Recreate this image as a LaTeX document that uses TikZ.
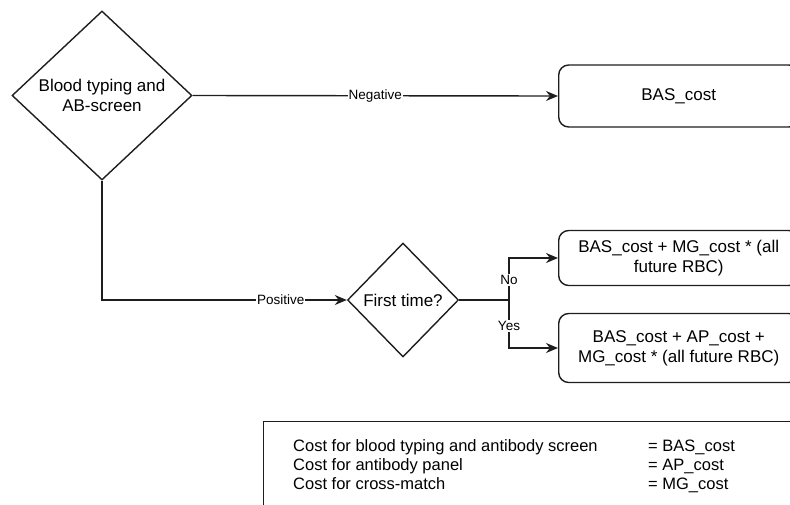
\documentclass[tikz,border=0pt]{standalone}
\usepackage{fontspec}
\setmainfont{Liberation Sans}
\usetikzlibrary{shapes.geometric, arrows.meta, positioning}
\definecolor{linegray}{HTML}{1E1E1E}
\tikzset{
  decision/.style={draw=linegray, diamond, line width=1.4pt, inner sep=0pt,
    align=center, font=\fontsize{17}{20}\selectfont},
  outcome/.style={draw=linegray, rounded corners=10pt, line width=1.4pt,
    minimum width=240pt, align=center, font=\fontsize{17}{20}\selectfont},
  flow/.style={draw=linegray, line width=1.4pt, -{Stealth[length=12pt,width=10pt]}},
  edgelabel/.style={fill=white, inner sep=1pt, font=\fontsize{13.5}{15}\selectfont},
  legendtext/.style={inner sep=0pt, font=\fontsize{16.5}{19}\selectfont}
}

\begin{document}
\begin{tikzpicture}[x=1pt, y=-1pt]
  \useasboundingbox (0,0) rectangle (790,504);
  \clip (0,0) rectangle (790,504);

  % decisions
  \node[decision, minimum width=180pt, minimum height=169pt] (screen) at (102,95.5) {Blood typing and\\AB-screen};
  \node[decision, minimum width=111pt, minimum height=114pt] (first) at (403,300) {First time?};

  % outcomes
  \node[outcome, minimum height=62pt, anchor=west] (bas) at (558,96) {BAS\_cost};
  \node[outcome, minimum height=55pt, anchor=west] (nofut) at (558,258) {BAS\_cost + MG\_cost * (all\\future RBC)};
  \node[outcome, minimum height=69pt, anchor=west] (yesfut) at (558,348) {BAS\_cost + AP\_cost +\\MG\_cost * (all future RBC)};

  % connectors
  \draw[flow] (screen.east) -- node[edgelabel]{Negative} (bas.west);
  \draw[flow] (screen.south) |- node[edgelabel, pos=0.865]{Positive} (first.west);
  \coordinate (split) at (509,300);
  \draw[draw=linegray, line width=1.4pt] (first.east) -- (split);
  \draw[flow] (split) |- node[edgelabel, pos=0.24]{No} (nofut.west);
  \draw[flow] (split) |- node[edgelabel, pos=0.27]{Yes} (yesfut.west);

  % legend
  \node[draw=linegray, line width=1.4pt, anchor=north west, minimum width=560pt, minimum height=100pt] (legend) at (263,421) {};
  \foreach \name/\val [count=\i] in {Cost for blood typing and antibody screen/BAS\_cost,
      Cost for antibody panel/AP\_cost, Cost for cross-match/MG\_cost}{
    \node[legendtext, anchor=base west] (cost\i) at (293,432+19*\i) {\name};
    \node[legendtext, anchor=base west] (val\i) at (648,432+19*\i) {= \val};
  }
\end{tikzpicture}
\end{document}
